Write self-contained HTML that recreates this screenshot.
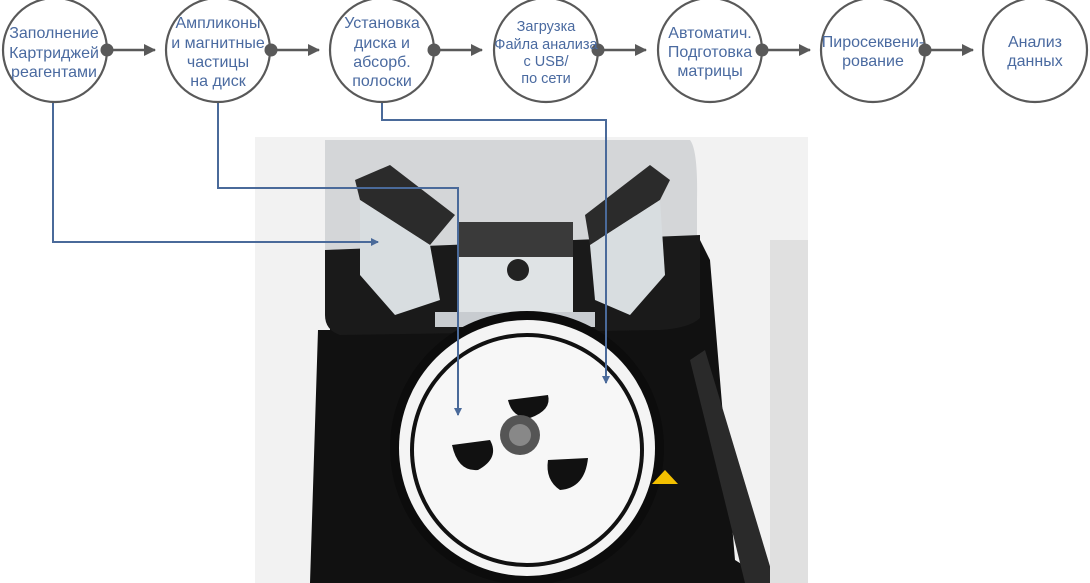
<!DOCTYPE html>
<html><head><meta charset="utf-8"><style>
html,body{margin:0;padding:0;background:#fff;}
svg{display:block;}
text{font-family:"Liberation Sans",sans-serif;font-size:16px;fill:#4a6aa0;text-anchor:middle;}
</style></head><body>
<svg width="1090" height="583" viewBox="0 0 1090 583" xmlns="http://www.w3.org/2000/svg">
<defs>
<marker id="ah" markerWidth="8" markerHeight="8" refX="7" refY="4" orient="auto" markerUnits="userSpaceOnUse"><path d="M0,0 L8,4 L0,8 z" fill="#4a6a9a"/></marker>
<marker id="gh" markerWidth="12" markerHeight="12" refX="11" refY="6" orient="auto" markerUnits="userSpaceOnUse"><path d="M0,0 L12,6 L0,12 z" fill="#595959"/></marker>
</defs>
<!-- photo -->
<rect x="255" y="137" width="553" height="446" fill="#f2f2f2"/>
<path d="M325,140 L690,140 Q698,150 697,200 L697,262 L325,262 Z" fill="#d4d6d8"/>
<path d="M330,250 L700,240 L710,260 L735,560 L772,583 L310,583 L318,330 L330,330 Z" fill="#111"/>
<path d="M325,250 L700,235 L700,318 Q690,328 660,330 L340,335 Q325,330 325,315 Z" fill="#1a1a1a"/>
<path d="M690,360 L705,350 L775,583 L745,583 Z" fill="#2a2a2a"/>
<rect x="770" y="240" width="38" height="343" fill="#e0e0e0"/>
<!-- cartridges -->
<polygon points="355,180 390,165 455,215 430,245 360,200" fill="#2b2b2b"/>
<polygon points="360,200 430,245 440,300 395,315 360,275" fill="#d8dde0"/>
<polygon points="585,215 650,165 670,180 660,200 590,245" fill="#2b2b2b"/>
<polygon points="590,245 660,200 665,275 630,315 595,300" fill="#d8dde0"/>
<rect x="458" y="222" width="115" height="35" fill="#3a3a3a"/>
<rect x="458" y="257" width="115" height="60" fill="#dfe3e5"/>
<rect x="435" y="312" width="160" height="15" fill="#c8ccd0"/>
<circle cx="518" cy="270" r="11" fill="#222"/>
<!-- disk -->
<circle cx="527" cy="448" r="137" fill="#0c0c0c"/>
<circle cx="527" cy="448" r="128" fill="#f4f4f4"/>
<circle cx="527" cy="450" r="117" fill="#111"/>
<circle cx="527" cy="450" r="113" fill="#f7f7f7"/>
<path d="M508,400 L548,395 Q552,410 530,418 Q512,418 508,400Z" fill="#111"/>
<path d="M452,445 L490,440 Q500,458 478,470 Q458,472 452,445Z" fill="#111"/>
<path d="M548,460 L588,458 Q585,488 560,490 Q545,480 548,460Z" fill="#111"/>
<circle cx="520" cy="435" r="20" fill="#555"/><circle cx="520" cy="435" r="11" fill="#888"/>
<polygon points="665,470 652,484 678,484" fill="#f3c000"/>
<!-- connectors -->
<g stroke="#4a6a9a" stroke-width="2" fill="none">
<polyline points="53,102 53,242 378,242" marker-end="url(#ah)"/>
<polyline points="218,102 218,188 458,188 458,415" marker-end="url(#ah)"/>
<polyline points="382,100 382,120 606,120 606,383" marker-end="url(#ah)"/>
</g>
<!-- circles -->
<g stroke="#595959" stroke-width="2.2" fill="#fff">
<circle cx="55" cy="50" r="52"/><circle cx="218" cy="50" r="52"/><circle cx="382" cy="50" r="52"/>
<circle cx="546" cy="50" r="52"/><circle cx="710" cy="50" r="52"/><circle cx="873" cy="50" r="52"/><circle cx="1035" cy="50" r="52"/>
</g>
<g stroke="#595959" stroke-width="2.5">
<line x1="108" y1="50" x2="155" y2="50" marker-end="url(#gh)"/>
<line x1="272" y1="50" x2="319" y2="50" marker-end="url(#gh)"/>
<line x1="435" y1="50" x2="482" y2="50" marker-end="url(#gh)"/>
<line x1="599" y1="50" x2="646" y2="50" marker-end="url(#gh)"/>
<line x1="763" y1="50" x2="810" y2="50" marker-end="url(#gh)"/>
<line x1="926" y1="50" x2="973" y2="50" marker-end="url(#gh)"/>
</g>
<g fill="#595959">
<circle cx="107" cy="50" r="6.5"/><circle cx="271" cy="50" r="6.5"/><circle cx="434" cy="50" r="6.5"/>
<circle cx="598" cy="50" r="6.5"/><circle cx="762" cy="50" r="6.5"/><circle cx="925" cy="50" r="6.5"/>
</g>
<text x="54" y="38">Заполнение</text><text x="54" y="58">Картриджей</text><text x="54" y="77">реагентами</text>
<text x="218" y="28">Ампликоны</text><text x="218" y="48">и магнитные</text><text x="218" y="67">частицы</text><text x="218" y="86">на диск</text>
<text x="382" y="28">Установка</text><text x="382" y="48">диска и</text><text x="382" y="67">абсорб.</text><text x="382" y="86">полоски</text>
<text x="546" y="31" style="font-size:14.5px">Загрузка</text><text x="546" y="49" style="font-size:14.5px">Файла анализа</text><text x="546" y="66" style="font-size:14.5px">с USB/</text><text x="546" y="83" style="font-size:14.5px">по сети</text>
<text x="710" y="38">Автоматич.</text><text x="710" y="57">Подготовка</text><text x="710" y="76">матрицы</text>
<text x="873" y="47">Пиросеквени-</text><text x="873" y="66">рование</text>
<text x="1035" y="47">Анализ</text><text x="1035" y="66">данных</text>
</svg>
</body></html>
